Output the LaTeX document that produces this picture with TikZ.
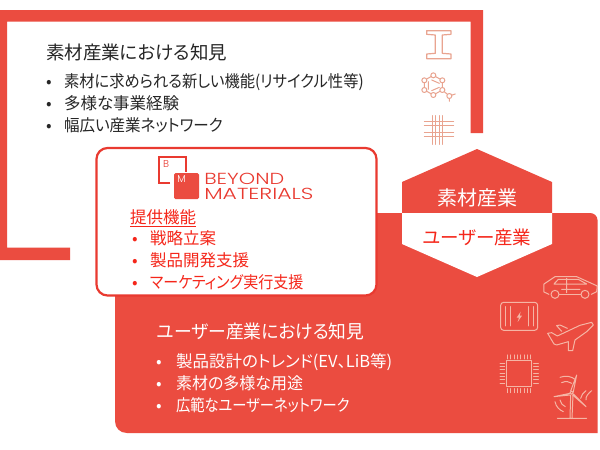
\documentclass[tikz,border=0pt]{standalone}
\usepackage{fontspec}
\newfontfamily\cjk[RawFeature=+palt]{Noto Sans CJK JP}
\newfontfamily\logofont{Poppins Light}
\definecolor{brand}{HTML}{EB4C40}
\definecolor{edge}{HTML}{E93A30}
\definecolor{txtred}{HTML}{F5261A}
\definecolor{icona}{HTML}{E9A490}
\definecolor{iconb}{HTML}{F5B5A5}
\tikzset{
  lbl/.style={anchor=base west,inner sep=0pt,outer sep=0pt,font=\cjk\fontsize{16.5}{16.5}\selectfont},
  head/.style={lbl,font=\cjk\fontsize{18.5}{18.5}\selectfont},
  ctr/.style={anchor=center,inner sep=0pt,font=\cjk\fontsize{18.5}{18.5}\selectfont},
  icn/.style={line width=1pt,line join=round,line cap=round},
  ik/.style={icn,draw=icona},
  iw/.style={icn,draw=iconb},
  logotext/.style={anchor=base west,inner sep=0pt,text=edge,font=\logofont\fontsize{16}{16}\selectfont},
}
\begin{document}
\begin{tikzpicture}[x=1pt,y=-1pt]
\useasboundingbox (0,0) rectangle (600,450);
\fill[white] (0,0) rectangle (600,450);
% top frame
\fill[brand] (0,10) -- (483,10) -- (483,133) -- (470.5,133) -- (470.5,21.5) -- (7,21.5) -- (7,247.5) -- (70,247.5) -- (70,260) -- (0,260) -- cycle;
% body
\fill[brand] (115,213) -- (590,213) .. controls (594,213) and (597.5,216) .. (597.5,220) -- (597.5,433) -- (127,433) .. controls (120,433) and (115,428) .. (115,421) -- cycle;
% pentagons
\fill[brand] (477,149) -- (552,182) -- (552,213) -- (402,213) -- (402,182) -- cycle;
\fill[white] (402,213) -- (552,213) -- (552,244) -- (477,277) -- (402,244) -- cycle;
\node[ctr,text=white,font=\cjk\fontsize{20}{20}\selectfont] (hexa) at (477,198) {素材産業};
\node[ctr,text=txtred] (hexb) at (477,237.5) {ユーザー産業};
% white box
\draw[edge,line width=2.2pt,fill=white,rounded corners=11pt] (96.5,148) rectangle (376.5,295.5);
% top text
\node[head,text=black!85] (t0) at (46,59) {素材産業における知見};
\node[lbl,text=black!85] (b1) at (46,87) {•};
\node[lbl,text=black!85,xscale=0.926] (t1) at (64,87) {素材に求められる新しい機能(リサイクル性等)};
\node[lbl,text=black!85] (b2) at (46,109) {•};
\node[lbl,text=black!85] (t2) at (64,109) {多様な事業経験};
\node[lbl,text=black!85] (b3) at (46,131) {•};
\node[lbl,text=black!85,xscale=0.94] (t3) at (64,131) {幅広い産業ネットワーク};
% logo
\draw[edge,line width=1.1pt] (170,183) -- (159,183) -- (159,157) -- (186,157) -- (186,172);
\fill[brand,rounded corners=1.5pt] (174,173) rectangle (199,199);
\node[inner sep=0pt,text=edge,font=\logofont\fontsize{10}{10}\selectfont] (logob) at (166,164) {B};
\node[inner sep=0pt,text=white,font=\logofont\fontsize{10}{10}\selectfont] (logom) at (181.5,179) {M};
\node[logotext,xscale=1.3] (logo1) at (204,184.5) {BEYOND};
\node[logotext,xscale=1.37] (logo2) at (204,199) {MATERIALS};
% functions
\node[lbl,text=txtred] (f0) at (130,223) {\underline{提供機能}};
\node[lbl,text=txtred] (fb1) at (132,244) {•};
\node[lbl,text=txtred] (f1) at (150,244) {戦略立案};
\node[lbl,text=txtred] (fb2) at (132,266) {•};
\node[lbl,text=txtred] (f2) at (150,266) {製品開発支援};
\node[lbl,text=txtred] (fb3) at (132,288) {•};
\node[lbl,text=txtred,xscale=0.91] (f3) at (150,288) {マーケティング実行支援};
% user text
\node[head,text=white,xscale=0.96] (u0) at (157,338) {ユーザー産業における知見};
\node[lbl,text=white] (ub1) at (156,367) {•};
\node[lbl,text=white] (u1) at (176,367) {製品設計のトレンド(EV、LiB等)};
\node[lbl,text=white] (ub2) at (156,389) {•};
\node[lbl,text=white,xscale=0.97] (u2) at (176,389) {素材の多様な用途};
\node[lbl,text=white] (ub3) at (156,411) {•};
\node[lbl,text=white,xscale=0.865] (u3) at (176,411) {広範なユーザーネットワーク};
% material icons
\begin{scope}[shift={(400,0)},x=0.3333pt,y=-0.3333pt]
\draw[ik,line width=1.2pt] (80,92) -- (153,92) -- (153,103) -- (127,105) -- (127,160) -- (153,162) -- (153,176) -- (80,176) -- (80,162) -- (106,160) -- (106,105) -- (80,103) -- cycle;
\draw[ik] (100,226) -- (127,241) -- (127,270) -- (100,285) -- (73,270) -- (73,241) -- cycle;
\draw[ik] (95,240) -- (118,250) (85,245) -- (85,268) (95,272) -- (118,262);
\draw[ik] (127,270) -- (148,288) (148,288) -- (166,282) (148,288) -- (148,304);
\foreach \p in {(100,226),(127,241),(127,270),(100,285),(73,270),(73,241),(148,288)}
  \draw[ik,fill=white] \p circle (7.5);
\foreach \v in {97,107,117,128} \draw[ik] (\v,347) -- (\v,433);
\foreach \h in {365,376,397,409} \draw[ik] (73,\h) -- (161,\h);
\end{scope}
% user icons
\begin{scope}[shift={(480,260)},x=0.3333pt,y=-0.3333pt]
% car
\draw[iw] (207,103) -- (192,96) -- (192,72) -- (207,62) -- (225,50) -- (290,50) -- (330,68) -- (352,78) -- (350,95) -- (334,103);
\draw[iw] (238,103) -- (302,103);
\draw[iw] (225,103) circle (12) (315,103) circle (12);
\draw[iw] (222,72) -- (235,58) -- (295,58) -- (320,72) -- cycle (260,55) -- (260,98) (245,88) -- (300,88);
% battery
\draw[iw,rounded corners=3pt] (62,127) rectangle (173,211);
\draw[iw] (75,140) -- (75,198) (90,140) -- (90,198) (145,140) -- (145,198) (160,140) -- (160,198);
\fill[iconb] (122,155) -- (110,173) -- (117,173) -- (113,186) -- (126,167) -- (119,167) -- cycle;
% plane
\draw[iw] (203,220) -- (215,218) -- (232,228) -- (300,196) -- (335,187) -- (340,195) -- (320,215) -- (285,240) -- (278,272) -- (265,272) -- (265,245) -- (230,255) -- (222,252) -- cycle;
\draw[iw] (262,205) -- (240,195) -- (230,197) -- (245,214);
% chip
\draw[iw] (80,303) rectangle (155,380);
\foreach \v in {82,92,...,152} { \draw[iw] (\v,285) -- (\v,297); \draw[iw] (\v,386) -- (\v,398); }
\foreach \h in {310,320,...,376} { \draw[iw] (60,\h) -- (74,\h); \draw[iw] (161,\h) -- (175,\h); }
% turbine
\draw[iw] (275,398) circle (5);
\draw[iw] (272,405) -- (270,475) (279,405) -- (276,475) (232,475) -- (320,475);
\draw[iw] (272,393) -- (290,345) -- (280,395) (270,400) -- (222,410) -- (270,405) (280,402) -- (318,440) -- (278,405);
\draw[iw] (240,352) .. controls (258,345) and (275,350) .. (285,358) (245,368) .. controls (258,362) and (268,365) .. (275,370);
\draw[iw] (225,425) .. controls (228,440) and (238,450) .. (250,455) (240,420) .. controls (242,430) and (248,437) .. (256,440);
\draw[iw] (318,420) .. controls (316,410) and (325,400) .. (335,392) (302,415) .. controls (304,405) and (310,398) .. (318,392);
\end{scope}
\end{tikzpicture}
\end{document}
